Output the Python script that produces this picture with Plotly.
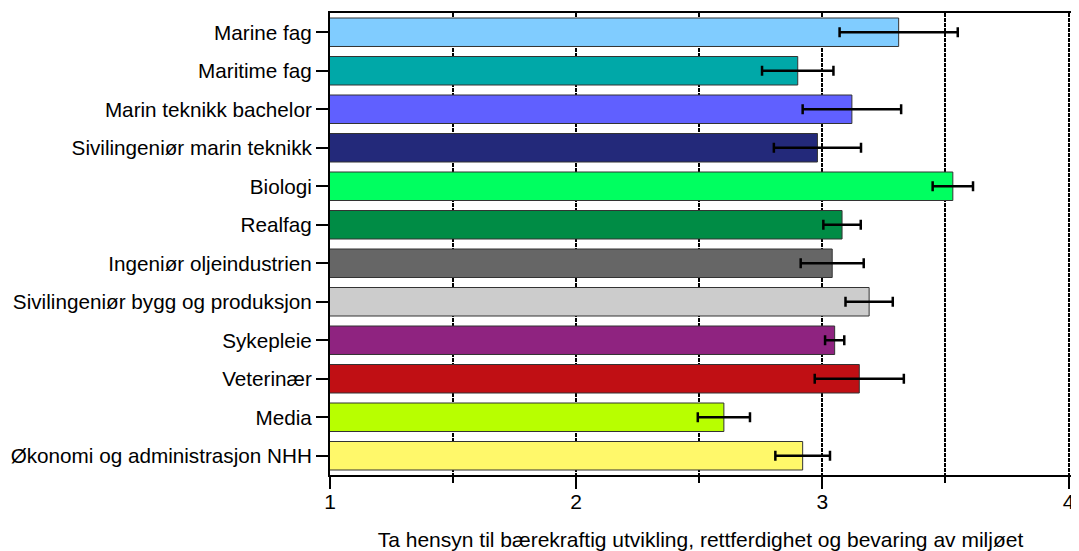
import plotly.graph_objects as go

# categories, top to bottom
studies = ["Marine fag",
           "Maritime fag",
           "Marin teknikk bachelor",
           "Sivilingeniør marin teknikk",
           "Biologi",
           "Realfag",
           "Ingeniør oljeindustrien",
           "Sivilingeniør bygg og produksjon",
           "Sykepleie",
           "Veterinær",
           "Media",
           "Økonomi og administrasjon NHH"]

means = [3.31, 2.90, 3.12, 2.98, 3.53, 3.08, 3.04, 3.19, 3.05, 3.15, 2.60, 2.92]
errors = [0.24, 0.145, 0.20, 0.177, 0.082, 0.076, 0.128, 0.096, 0.039, 0.181, 0.106, 0.111]

colors = ["#80CCFF", "#00A8A8", "#6060FF", "#23297A", "#00FF60", "#008C45",
          "#666666", "#CCCCCC", "#8F2380", "#C00F14", "#B8FF00", "#FFF86A"]

x_title = "Ta hensyn til bærekraftig utvikling, rettferdighet og bevaring av miljøet"

fig = go.Figure()

fig.add_trace(go.Bar(
    x=means,
    y=studies,
    orientation="h",
    marker=dict(color=colors, line=dict(color="#333333", width=1)),
    error_x=dict(type="data", array=errors, color="black", thickness=2.5, width=5),
    showlegend=False
))

# the page body adds an 8px margin, so the figure is a bit smaller than the window
fig.update_layout(
    width=1071, height=543,
    margin=dict(l=322, r=8, t=5, b=76),
    plot_bgcolor="white",
    paper_bgcolor="white",
    font=dict(family="Arial, Liberation Sans", size=21, color="black"),
    bargap=0.26
)

grid_style = dict(showgrid=True, gridcolor="black", gridwidth=2, griddash="4px,1px")

fig.update_xaxes(
    range=[1, 4.01],
    dtick=1,
    ticks="outside",
    ticklen=12,
    tickwidth=1.5,
    tickcolor="black",
    ticklabelstandoff=-5,
    showline=True,
    linecolor="black",
    linewidth=2,
    mirror=True,
    zeroline=False,
    automargin=False,
    minor=dict(dtick=0.5, ticks="outside", ticklen=6, tickwidth=1.5, tickcolor="black",
               **grid_style),
    title=dict(text=x_title, standoff=22, font=dict(size=21)),
    **grid_style
)

fig.update_yaxes(
    categoryorder="array",
    categoryarray=studies,
    autorange="reversed",
    ticks="outside",
    ticklen=12,
    tickwidth=1.5,
    tickcolor="black",
    tickfont=dict(size=20.7),
    showline=True,
    linecolor="black",
    linewidth=2,
    showgrid=False,
    zeroline=False,
    automargin=False
)

fig.write_html("out.html")
